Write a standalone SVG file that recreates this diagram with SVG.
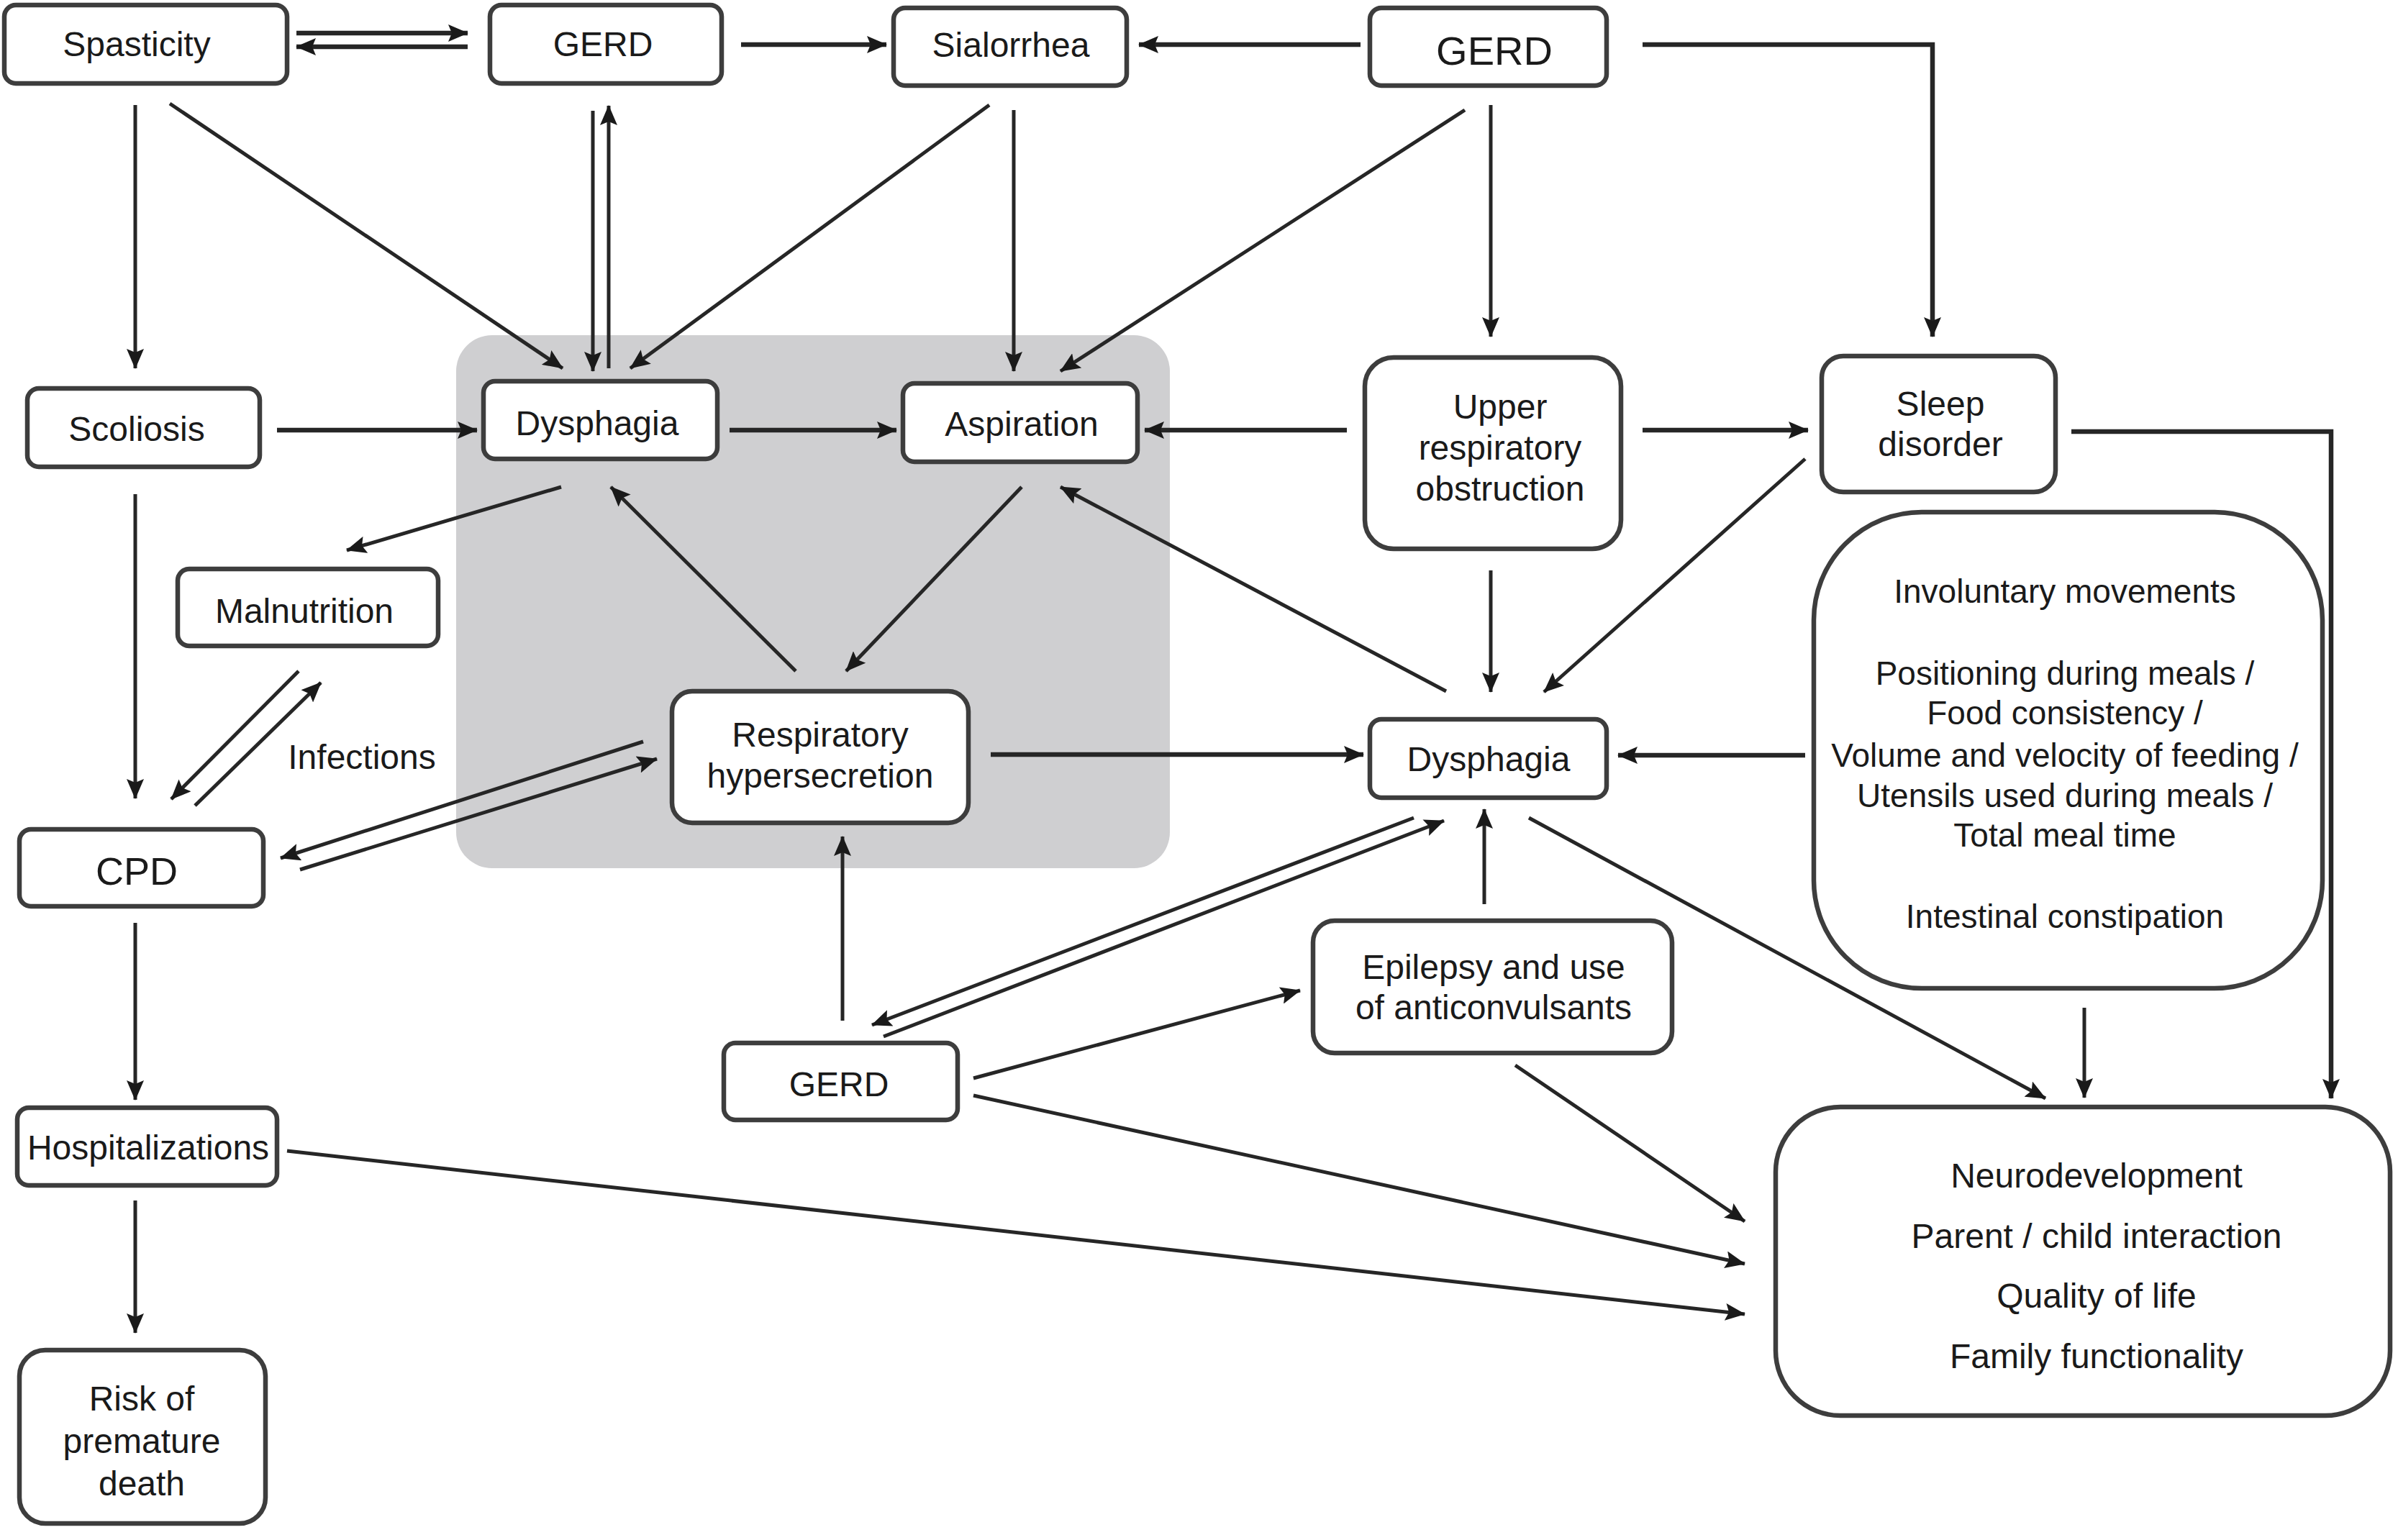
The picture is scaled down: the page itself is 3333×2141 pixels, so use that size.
<svg xmlns="http://www.w3.org/2000/svg" width="3333" height="2141" viewBox="0 0 3333 2141">
<style>
.bx{fill:#fff;stroke:#3d3d3d;stroke-width:6.5}
.t{font-family:"Liberation Sans",Arial,sans-serif;font-size:48px;fill:#1a1a1a;text-anchor:middle;dominant-baseline:central}
.tb{font-size:46px}
.tl{font-size:56px}
.c{fill:none;stroke:#262626;stroke-width:6.5}
.d{fill:none;stroke:#262626;stroke-width:5}
</style>
<defs>
<marker id="a" markerUnits="userSpaceOnUse" markerWidth="28" markerHeight="24" refX="27" refY="12" orient="auto">
<path d="M0,0 L28,12 L0,24 L5,12 z" fill="#1a1a1a"/>
</marker>
</defs>
<rect width="3333" height="2141" fill="#fff"/>
<rect id="shade" x="634" y="466" width="992" height="741" rx="50" fill="#cfcfd1"/>

<g id="connectors">
<path class="c" d="M412,46 H650" marker-end="url(#a)"/>
<path class="c" d="M650,65 H412" marker-end="url(#a)"/>
<path class="c" d="M1030,62 H1232" marker-end="url(#a)"/>
<path class="c" d="M1891,62 H1583" marker-end="url(#a)"/>
<path class="c" d="M2283,62 H2686 V468" marker-end="url(#a)"/>
<path class="d" d="M188,146 V512" marker-end="url(#a)"/>
<path class="d" d="M236,144 L782,512" marker-end="url(#a)"/>
<path class="d" d="M824,154 V516" marker-end="url(#a)"/>
<path class="d" d="M846,512 V147" marker-end="url(#a)"/>
<path class="d" d="M1375,146 L876,512" marker-end="url(#a)"/>
<path class="d" d="M1409,153 V516" marker-end="url(#a)"/>
<path class="d" d="M2036,153 L1474,516" marker-end="url(#a)"/>
<path class="d" d="M2072,146 V468" marker-end="url(#a)"/>
<path class="c" d="M385,598 H663" marker-end="url(#a)"/>
<path class="c" d="M1014,598 H1246" marker-end="url(#a)"/>
<path class="c" d="M1872,598 H1591" marker-end="url(#a)"/>
<path class="c" d="M2283,598 H2513" marker-end="url(#a)"/>
<path class="c" d="M2879,600 H3240 V1527" marker-end="url(#a)"/>
<path class="d" d="M780,677 L482,765" marker-end="url(#a)"/>
<path class="d" d="M1106,933 L849,677" marker-end="url(#a)"/>
<path class="d" d="M1420,677 L1176,933" marker-end="url(#a)"/>
<path class="d" d="M2010,961 L1474,677" marker-end="url(#a)"/>
<path class="d" d="M188,687 V1110" marker-end="url(#a)"/>
<path class="d" d="M415,933 L238,1111" marker-end="url(#a)"/>
<path class="d" d="M271,1120 L446,949" marker-end="url(#a)"/>
<path class="d" d="M894,1031 L390,1193" marker-end="url(#a)"/>
<path class="d" d="M417,1209 L913,1055" marker-end="url(#a)"/>
<path class="c" d="M1377,1049 H1895" marker-end="url(#a)"/>
<path class="d" d="M2072,793 V962" marker-end="url(#a)"/>
<path class="d" d="M2509,638 L2146,962" marker-end="url(#a)"/>
<path class="c" d="M2509,1050 H2249" marker-end="url(#a)"/>
<path class="d" d="M1965,1137 L1212,1425" marker-end="url(#a)"/>
<path class="d" d="M1228,1441 L2007,1141" marker-end="url(#a)"/>
<path class="d" d="M2063,1257 V1125" marker-end="url(#a)"/>
<path class="d" d="M2125,1137 L2843,1527" marker-end="url(#a)"/>
<path class="d" d="M2897,1401 V1526" marker-end="url(#a)"/>
<path class="d" d="M1171,1419 V1163" marker-end="url(#a)"/>
<path class="d" d="M1353,1499 L1807,1377" marker-end="url(#a)"/>
<path class="d" d="M1353,1523 L2425,1757" marker-end="url(#a)"/>
<path class="d" d="M2106,1481 L2425,1698" marker-end="url(#a)"/>
<path class="d" d="M399,1600 L2425,1827" marker-end="url(#a)"/>
<path class="d" d="M188,1283 V1529" marker-end="url(#a)"/>
<path class="d" d="M188,1669 V1853" marker-end="url(#a)"/>
</g>

<g id="spasticity"><rect class="bx" x="6" y="7" width="393" height="109" rx="16"/><text class="t" x="190" y="61">Spasticity</text></g>
<g id="gerd1"><rect class="bx" x="681" y="7" width="322" height="109" rx="16"/><text class="t" x="838" y="61">GERD</text></g>
<g id="sialorrhea"><rect class="bx" x="1242" y="11" width="324" height="108" rx="16"/><text class="t" x="1405" y="62">Sialorrhea</text></g>
<g id="gerd2"><rect class="bx" x="1904" y="11" width="329" height="108" rx="16"/><text class="t tl" x="2077" y="70">GERD</text></g>
<g id="scoliosis"><rect class="bx" x="38" y="540" width="323" height="109" rx="16"/><text class="t" x="190" y="596">Scoliosis</text></g>
<g id="dysphagia1"><rect class="bx" x="672" y="530" width="325" height="108" rx="16"/><text class="t" x="830" y="588">Dysphagia</text></g>
<g id="aspiration"><rect class="bx" x="1255" y="533" width="326" height="109" rx="16"/><text class="t" x="1420" y="589">Aspiration</text></g>
<g id="upper"><rect class="bx" x="1897" y="497" width="356" height="266" rx="40"/><text class="t" x="2085" y="565">Upper</text><text class="t" x="2085" y="622">respiratory</text><text class="t" x="2085" y="679">obstruction</text></g>
<g id="sleep"><rect class="bx" x="2532" y="495" width="325" height="189" rx="30"/><text class="t" x="2697" y="561">Sleep</text><text class="t" x="2697" y="617">disorder</text></g>
<g id="malnutrition"><rect class="bx" x="247" y="791" width="362" height="107" rx="16"/><text class="t" x="423" y="849">Malnutrition</text></g>
<g id="infections"><text class="t" x="503" y="1052">Infections</text></g>
<g id="resp"><rect class="bx" x="934" y="961" width="412" height="183" rx="28"/><text class="t" x="1140" y="1021">Respiratory</text><text class="t" x="1140" y="1078">hypersecretion</text></g>
<g id="factors"><rect class="bx" x="2521" y="712" width="707" height="662" rx="150"/>
<text class="t tb" x="2870" y="822">Involuntary movements</text>
<text class="t tb" x="2870" y="936">Positioning during meals /</text>
<text class="t tb" x="2870" y="991">Food consistency /</text>
<text class="t tb" x="2870" y="1050">Volume and velocity of feeding /</text>
<text class="t tb" x="2870" y="1106">Utensils used during meals /</text>
<text class="t tb" x="2870" y="1161">Total meal time</text>
<text class="t tb" x="2870" y="1274">Intestinal constipation</text></g>
<g id="dysphagia2"><rect class="bx" x="1904" y="1000" width="329" height="109" rx="16"/><text class="t" x="2069" y="1055">Dysphagia</text></g>
<g id="cpd"><rect class="bx" x="27" y="1153" width="339" height="107" rx="16"/><text class="t" x="190" y="1211" style="font-size:54px">CPD</text></g>
<g id="epilepsy"><rect class="bx" x="1825" y="1280" width="499" height="184" rx="30"/><text class="t" x="2076" y="1344">Epilepsy and use</text><text class="t" x="2076" y="1400">of anticonvulsants</text></g>
<g id="gerd3"><rect class="bx" x="1006" y="1450" width="325" height="107" rx="16"/><text class="t" x="1166" y="1507">GERD</text></g>
<g id="hosp"><rect class="bx" x="24" y="1540" width="361" height="108" rx="16"/><text class="t" x="206" y="1595">Hospitalizations</text></g>
<g id="outcomes"><rect class="bx" x="2468" y="1539" width="854" height="429" rx="90"/>
<text class="t" x="2914" y="1634">Neurodevelopment</text>
<text class="t" x="2914" y="1718">Parent / child interaction</text>
<text class="t" x="2914" y="1801">Quality of life</text>
<text class="t" x="2914" y="1885">Family functionality</text></g>
<g id="risk"><rect class="bx" x="27" y="1877" width="342" height="241" rx="36"/><text class="t" x="197" y="1944">Risk of</text><text class="t" x="197" y="2003">premature</text><text class="t" x="197" y="2062">death</text></g>
</svg>
